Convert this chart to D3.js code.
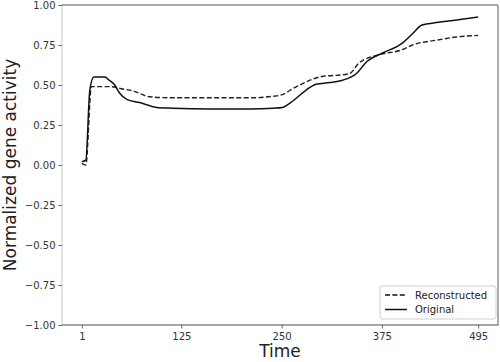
<!DOCTYPE html>
<html>
<head>
<meta charset="utf-8">
<script src="https://cdn.jsdelivr.net/npm/d3@7"></script>
<style>
  body { margin: 0; background: #fff; }
  svg { font-family: "DejaVu Sans", sans-serif; display: block; }
</style>
</head>
<body>
<svg id="chart" width="500" height="362"></svg>
<script>
// values
var origTime = [1, 6, 11, 16, 22, 30, 35, 42, 48, 57, 73, 94, 114, 160, 210, 240, 251, 264, 281, 293, 310, 326, 343, 356, 376, 400, 413, 425, 443, 468, 495];
var origVals = [0.02, 0.03, 0.47, 0.55, 0.55, 0.55, 0.53, 0.50, 0.45, 0.41, 0.39, 0.36, 0.355, 0.35, 0.35, 0.355, 0.36, 0.40, 0.47, 0.505, 0.515, 0.53, 0.57, 0.645, 0.70, 0.76, 0.82, 0.875, 0.89, 0.906, 0.925];

var recTime = [1, 6, 13, 20, 35, 52, 64, 85, 110, 160, 210, 240, 251, 265, 281, 297, 334, 347, 372, 400, 413, 443, 468, 495];
var recVals = [0.01, 0.0, 0.49, 0.49, 0.49, 0.475, 0.464, 0.427, 0.42, 0.42, 0.42, 0.43, 0.44, 0.48, 0.52, 0.55, 0.57, 0.64, 0.69, 0.72, 0.75, 0.78, 0.80, 0.81];

var xTicks = [1, 125, 250, 375, 495];
var yTicks = [-1, -0.75, -0.5, -0.25, 0, 0.25, 0.5, 0.75, 1];
var legendLabels = ["Reconstructed", "Original"];

var svg = d3.select("#chart");
var pLeft = 62, pRight = 498, pTop = 5, pBottom = 325;

var x = d3.scaleLinear().domain([-23.7, 519.7]).range([pLeft, pRight]);
var y = d3.scaleLinear().domain([-1, 1]).range([pBottom, pTop]);

// frame
svg.append("line").attr("x1", pLeft).attr("x2", pLeft).attr("y1", pTop).attr("y2", pBottom)
  .attr("stroke", "#c8c8c8").attr("stroke-width", 1);
svg.append("line").attr("x1", pLeft).attr("x2", pRight).attr("y1", pTop).attr("y2", pTop)
  .attr("stroke", "#555").attr("stroke-width", 1.2);
svg.append("line").attr("x1", pRight).attr("x2", pRight).attr("y1", pTop).attr("y2", pBottom)
  .attr("stroke", "#777").attr("stroke-width", 1.2);
svg.append("line").attr("x1", pLeft).attr("x2", pRight + 0.6).attr("y1", pBottom).attr("y2", pBottom)
  .attr("stroke", "#888").attr("stroke-width", 1.5);

// axes
var fmt = function(d) { return d3.format(".2f")(d).replace("-", "\u2212"); };
var yAxis = svg.append("g").attr("transform", "translate(" + pLeft + ",0)")
  .call(d3.axisLeft(y).tickValues(yTicks).tickFormat(fmt).tickSize(3.5).tickPadding(3));
var xAxis = svg.append("g").attr("transform", "translate(0," + pBottom + ")")
  .call(d3.axisBottom(x).tickValues(xTicks).tickSize(3.5).tickPadding(4));
[yAxis, xAxis].forEach(function(g) {
  g.select(".domain").remove();
  g.selectAll(".tick line").attr("stroke", "#444").attr("stroke-width", 0.8);
  g.selectAll(".tick text").attr("fill", "#333").style("font-size", "10px")
    .style("font-family", "DejaVu Sans, sans-serif");
});

// axis titles
svg.append("text").attr("x", (pLeft + pRight) / 2).attr("y", 357)
  .attr("text-anchor", "middle").attr("fill", "#222").style("font-size", "17px").text("Time");
svg.append("text").attr("transform", "translate(16," + ((pTop + pBottom) / 2) + ") rotate(-90)")
  .attr("text-anchor", "middle").attr("fill", "#222").style("font-size", "17px")
  .text("Normalized gene activity");

// lines
var line = d3.line().x(function(d) { return x(d[0]); }).y(function(d) { return y(d[1]); })
  .curve(d3.curveMonotoneX);

svg.append("path").datum(d3.zip(recTime, recVals))
  .attr("d", line).attr("fill", "none").attr("stroke", "#222")
  .attr("stroke-width", 1.4).attr("stroke-dasharray", "5,2.4");
svg.append("path").datum(d3.zip(origTime, origVals))
  .attr("d", line).attr("fill", "none").attr("stroke", "#111")
  .attr("stroke-width", 1.5);

// legend
var lg = svg.append("g").attr("transform", "translate(380,286)");
lg.append("rect").attr("width", 116).attr("height", 33).attr("rx", 2)
  .attr("fill", "#fff").attr("stroke", "#d0d0d0").attr("stroke-width", 1);
legendLabels.forEach(function(lab, i) {
  var yy = 9 + i * 14.5;
  lg.append("line").attr("x1", 5).attr("x2", 27).attr("y1", yy).attr("y2", yy)
    .attr("stroke", "#111").attr("stroke-width", 1.5)
    .attr("stroke-dasharray", i === 0 ? "5,2.4" : null);
  lg.append("text").attr("x", 35).attr("y", yy + 3.5).attr("fill", "#222")
    .style("font-size", "10px").text(lab);
});
</script>
</body>
</html>
